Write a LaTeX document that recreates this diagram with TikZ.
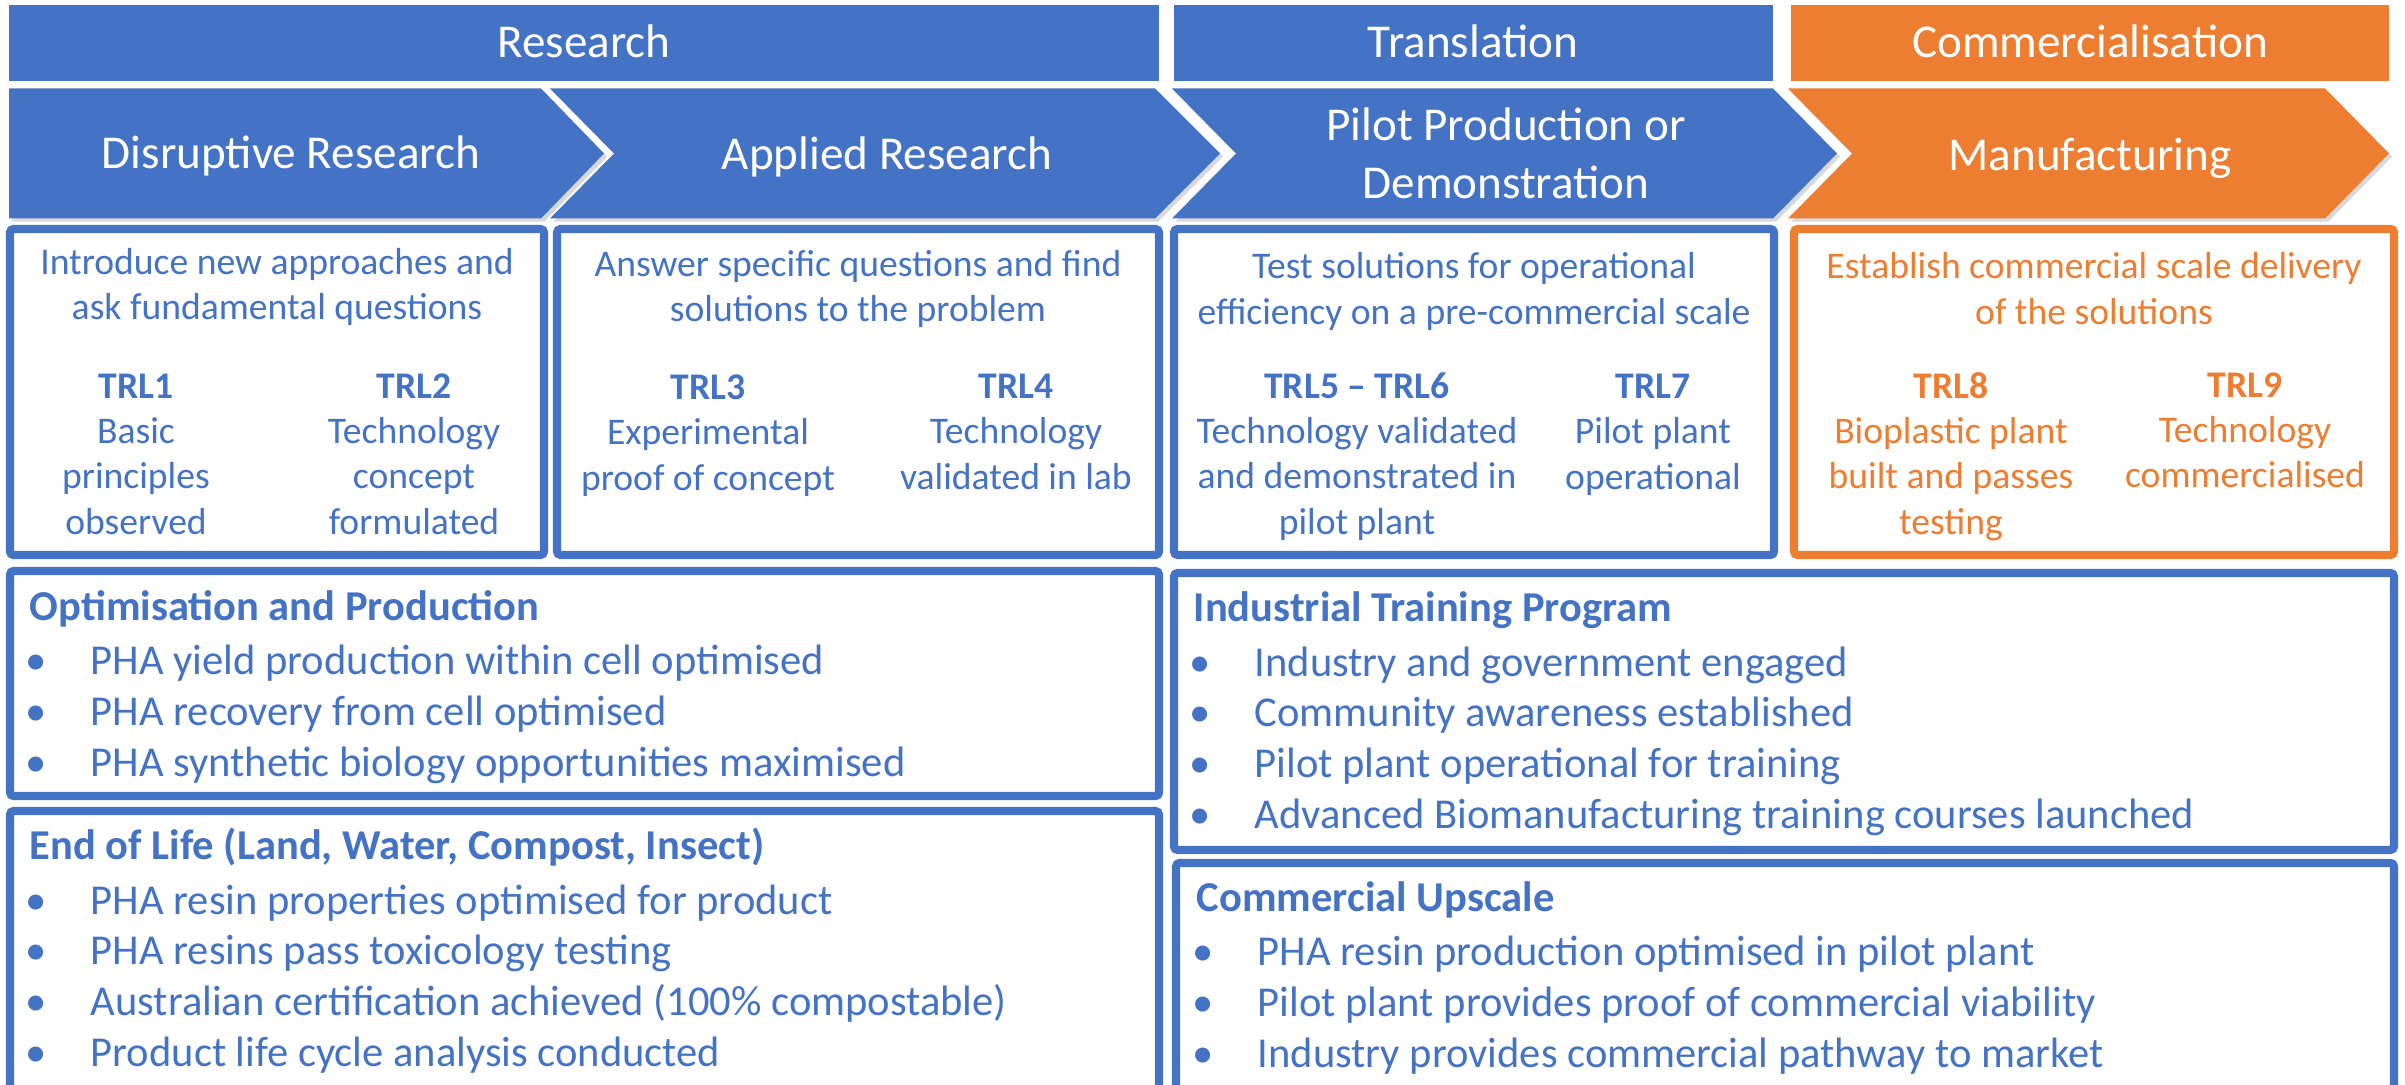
\documentclass[tikz,border=0pt]{standalone}
\usepackage{fontspec}
\setmainfont{Carlito}
\usetikzlibrary{positioning,shadows}
\definecolor{trlblue}{HTML}{4472C4}
\definecolor{trlorange}{HTML}{ED7D31}
\newcommand{\bul}{\makebox[0.61cm][l]{\kern-0.04cm\textbullet}}

\begin{document}
\begin{tikzpicture}[x=0.01cm,y=-0.01cm,
  chev/.style={fill=#1,drop shadow={shadow xshift=0.9pt,shadow yshift=-0.9pt,opacity=0.3}},
  panel/.style={draw=#1,line width=2.3pt,rounded corners=1pt},
  panel/.default=trlblue,
  bannertext/.style={text=white,font=\fontsize{13.4}{16.5}\selectfont,align=center,anchor=base,inner sep=0pt},
  goaltext/.style={text=#1,font=\fontsize{10.7}{12.8}\selectfont,align=center,anchor=base,inner sep=0pt},
  goaltext/.default=trlblue,
  listtext/.style={text=trlblue,font=\fontsize{12.1}{14.4}\selectfont,align=left,anchor=base west,inner sep=0pt}]
\useasboundingbox (0,0) rectangle (2405,1085);

\fill[trlblue] (9,5) rectangle (1159,81);
\fill[trlblue] (1174,5) rectangle (1773,81);
\fill[trlorange] (1791,5) rectangle (2389,81);
\node[bannertext] (research) at (584,57.5) {Research};
\node[bannertext] (translation) at (1473,57.5) {Translation};
\node[bannertext] (commercial) at (2090,57.5) {Commercialisation};

\fill[chev=trlblue] (9,88.5) -- (541,88.5) -- (604,153.5) -- (541,218.5) -- (9,218.5) -- cycle;
\fill[chev=trlblue] (550,88.5) -- (1155,88.5) -- (1220,153.5) -- (1155,218.5) -- (550,218.5) -- (614,153.5) -- cycle;
\fill[chev=trlblue] (1172,88.5) -- (1773,88.5) -- (1837,153.5) -- (1773,218.5) -- (1172,218.5) -- (1236,153.5) -- cycle;
\fill[chev=trlorange] (1788,88.5) -- (2325,88.5) -- (2389,153.5) -- (2325,218.5) -- (1788,218.5) -- (1852,153.5) -- cycle;
% multi-line nodes sit on the baseline of their last line
\node[bannertext] (disruptive) at (291,168.5) {Disruptive Research};
\node[bannertext] (applied) at (887,170) {Applied Research};
\node[bannertext] (pilot) at (1506,199) {Pilot Production or\\Demonstration};
\node[bannertext] (manufacturing) at (2090,171) {Manufacturing};

\draw[panel] (10,229) rectangle (544,555);
\draw[panel] (557,229) rectangle (1159,555);
\draw[panel] (1174,229) rectangle (1774,555);
\draw[panel=trlorange] (1794,229) rectangle (2394,555);
\draw[panel] (10,571) rectangle (1159,796);
\draw[panel] (10,811) rectangle (1159,1100);
\draw[panel] (1174,573) rectangle (2394,850);
\draw[panel] (1176,863) rectangle (2394,1100);

\node[goaltext] (goal1) at (277,320) {Introduce new approaches and\\ask fundamental questions};
\node[goaltext] (goal2) at (858,322) {Answer specific questions and find\\solutions to the problem};
\node[goaltext] (goal3) at (1474,324) {Test solutions for operational\\efficiency on a pre-commercial scale};
\node[goaltext=trlorange] (goal4) at (2094,324) {Establish commercial scale delivery\\of the solutions};

\node[goaltext] (trl1) at (136,534) {\textbf{TRL1}\\Basic\\principles\\observed};
\node[goaltext] (trl2) at (414,534) {\textbf{TRL2}\\Technology\\concept\\formulated};
\node[goaltext] (trl3) at (708,490) {\textbf{TRL3}\\Experimental\\proof of concept};
\node[goaltext] (trl4) at (1016,489) {\textbf{TRL4}\\Technology\\validated in lab};
\node[goaltext] (trl56) at (1357,534) {\textbf{TRL5 -- TRL6}\\Technology validated\\and demonstrated in\\pilot plant};
\node[goaltext] (trl7) at (1653,489) {\textbf{TRL7}\\Pilot plant\\operational};
\node[goaltext=trlorange] (trl8) at (1951,534) {\textbf{TRL8}\\Bioplastic plant\\built and passes\\testing};
\node[goaltext=trlorange] (trl9) at (2245,488) {\textbf{TRL9}\\Technology\\commercialised};

\node[listtext] (optimisation) at (29,776) {\textbf{Optimisation and Production}\\[1pt]
  \bul PHA yield production within cell optimised\\
  \bul PHA recovery from cell optimised\\
  \bul PHA synthetic biology opportunities maximised};
\node[listtext] (endoflife) at (29,1066) {\textbf{End of Life (Land, Water, Compost, Insect)}\\[1pt]
  \bul PHA resin properties optimised for product\\
  \bul PHA resins pass toxicology testing\\
  \bul Australian certification achieved (100\% compostable)\\
  \bul Product life cycle analysis conducted};
\node[listtext] (training) at (1193,828) {\textbf{Industrial Training Program}\\[1pt]
  \bul Industry and government engaged\\
  \bul Community awareness established\\
  \bul Pilot plant operational for training\\
  \bul Advanced Biomanufacturing training courses launched};
\node[listtext] (upscale) at (1196,1067) {\textbf{Commercial Upscale}\\[1pt]
  \bul PHA resin production optimised in pilot plant\\
  \bul Pilot plant provides proof of commercial viability\\
  \bul Industry provides commercial pathway to market};
\end{tikzpicture}
\end{document}
